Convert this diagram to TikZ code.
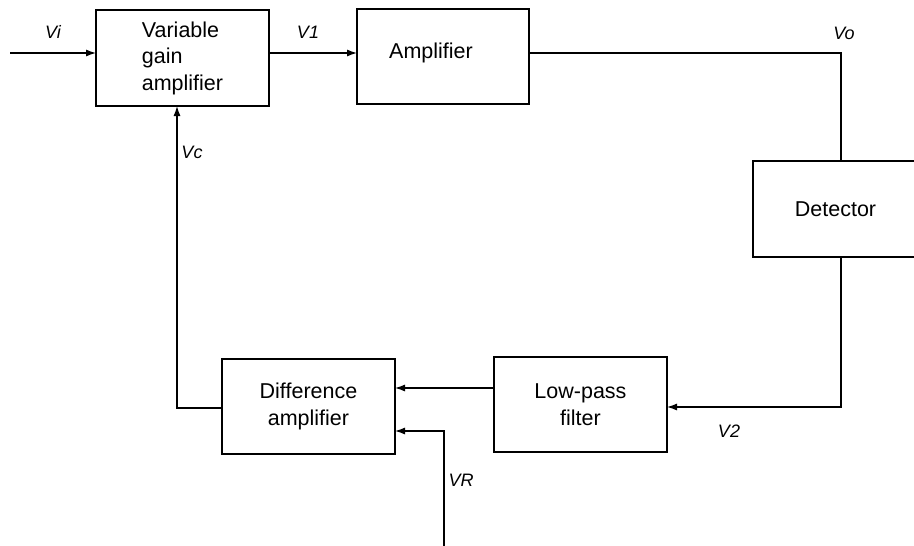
\documentclass[tikz,border=0pt]{standalone}
\usepackage{fontspec}
\setmainfont{Liberation Sans}
\usetikzlibrary{positioning,arrows.meta,calc}

\begin{document}
\begin{tikzpicture}[
  x=1pt, y=-1pt,
  line width=1.2pt,
  font=\fontsize{21.5}{26.5}\selectfont,
  blk/.style={draw, inner sep=0pt, outer sep=0pt, minimum width=173pt, minimum height=95pt, align=center},
  sig/.style={font=\fontsize{18}{20}\selectfont\itshape},
  arr/.style={-{Latex[length=10pt,width=7pt]}},
]
\useasboundingbox (0,0) rectangle (914,546);

% ---------- Forward path ----------
\node[blk, minimum height=96pt, align=left] (vga) at (182.5,58) {Variable\\gain\\amplifier};
\node[blk, minimum width=172pt] (amp) at (443,56.5) {};
\node (amptxt) at (431,53) {Amplifier};
\node[blk, minimum width=165pt, minimum height=96pt] (det) at (835.5,209) {Detector};

\coordinate (in) at (10,53);
\coordinate (vo) at (841,53);
\draw[arr] (in) -- (in -| vga.west);
\draw[arr] (vga.east |- in) -- (amp.west |- in);
\draw (amp.east |- in) -- (vo) -- (vo |- det.north);

\node[sig] (vi) at (53,32) {Vi};
\node[sig] (v1) at (308,32) {V1};
\node[sig] (vol) at (844,33) {Vo};

% ---------- Feedback path ----------
\node[blk] (lpf) at (580.5,404.5) {Low-pass\\filter};
\node[blk] (da) at (308.5,406.5) {Difference\\amplifier};

\coordinate (v2c) at (841,407);
\coordinate (lpo) at (494,388);
\coordinate (vrb) at (444,546);
\coordinate (vrk) at (444,431);
\coordinate (vcb) at (177,408);
\draw[arr] (det.south -| v2c) -- (v2c) -- (v2c -| lpf.east);
\draw[arr] (lpo -| lpf.west) -- (lpo -| da.east);
\draw[arr] (vrb) -- (vrk) -- (vrk -| da.east);
\draw[arr] (vcb -| da.west) -- (vcb) -- (vcb |- vga.south);

\node[sig] (v2) at (729,431) {V2};
\node[sig] (vr) at (461,480) {VR};
\node[sig] (vc) at (192,152) {Vc};

\end{tikzpicture}
\end{document}
